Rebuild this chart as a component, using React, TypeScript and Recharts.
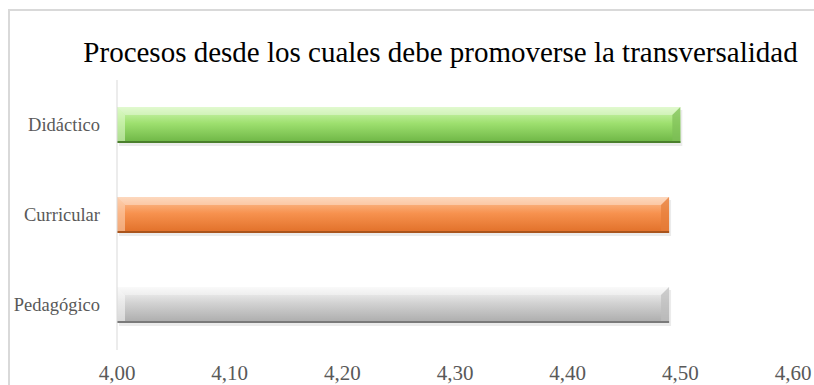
import React from 'react';
import { BarChart, Bar, XAxis, YAxis, Cell } from 'recharts';

const categories = ['Didáctico', 'Curricular', 'Pedagógico'];
const values = [4.5, 4.49, 4.49];
const xTicks = [4.0, 4.1, 4.2, 4.3, 4.4, 4.5, 4.6];
const title = 'Procesos desde los cuales debe promoverse la transversalidad';

const data = categories.map((c, i) => ({ name: c, value: values[i] }));

const SERIF = "'Liberation Serif', 'Times New Roman', serif";

const palettes: Record<string, { top: string; mid: string; bot: string; edge: string; light: string; dark: string }> = {
  'Didáctico': { top: '#d2f7b6', mid: '#9ee06f', bot: '#6cb444', edge: '#4a7f2c', light: '#e4fbd2', dark: '#7fbf58' },
  'Curricular': { top: '#fcc49c', mid: '#f7924f', bot: '#e06f28', edge: '#a9541c', light: '#fdd7bb', dark: '#e57d3a' },
  'Pedagógico': { top: '#f7f7f7', mid: '#d2d2d2', bot: '#ababab', edge: '#7a7a7a', light: '#fbfbfb', dark: '#bdbdbd' },
};

const BevelBar = (props: any) => {
  const { x, y, width, height, payload } = props;
  if (width == null || width <= 0) return null;
  const p = palettes[payload.name];
  const id = 'g' + categories.indexOf(payload.name);
  const b = 8;
  return (
    <g>
      <defs>
        <linearGradient id={id} x1="0" y1="0" x2="0" y2="1">
          <stop offset="0%" stopColor={p.top} />
          <stop offset="45%" stopColor={p.mid} />
          <stop offset="100%" stopColor={p.bot} />
        </linearGradient>
      </defs>
      <rect x={x + 2} y={y + 3} width={width} height={height} fill="#000" opacity={0.08} />
      <rect x={x} y={y} width={width} height={height} fill={`url(#${id})`} />
      <polygon points={`${x},${y} ${x + b},${y + b} ${x + b},${y + height - 2} ${x},${y + height}`} fill={p.light} opacity={0.55} />
      <polygon points={`${x},${y} ${x + width},${y} ${x + width - b},${y + b} ${x + b},${y + b}`} fill="#ffffff" opacity={0.35} />
      <polygon points={`${x + width},${y} ${x + width},${y + height} ${x + width - b},${y + height - 2} ${x + width - b},${y + b}`} fill={p.dark} opacity={0.7} />
      <rect x={x} y={y + height - 2} width={width} height={2} fill={p.edge} />
    </g>
  );
};

const fmt = (v: number) => v.toFixed(2).replace('.', ',');

const XTick = (props: any) => {
  const { x, y, payload } = props;
  return (
    <text x={x} y={y} dy="0.71em" textAnchor="middle" fill="#595959" fontSize={21} fontFamily={SERIF}>
      {fmt(payload.value)}
    </text>
  );
};

const YTick = (props: any) => {
  const { x, y, payload } = props;
  return (
    <text x={x} y={y} dy="0.35em" textAnchor="end" fill="#595959" fontSize={18.5} fontFamily={SERIF}>
      {payload.value}
    </text>
  );
};

export default function App() {
  return (
    <div style={{ position: 'absolute', left: 0, top: 0, width: 814, height: 385, overflow: 'hidden', background: '#fff' }}>
      <div style={{ position: 'absolute', left: 8, top: 9, width: 900, height: 500, borderLeft: '2px solid #d9d9d9', borderTop: '2px solid #d9d9d9' }} />
      <svg width={814} height={385} style={{ position: 'absolute', left: 0, top: 0 }}>
        <text x={440.5} y={62} textAnchor="middle" fontFamily={SERIF} fontSize={29} fill="#000">
          {title}
        </text>
      </svg>
      <div style={{ position: 'absolute', left: 0, top: 0 }}>
        <BarChart
          width={814}
          height={385}
          data={data}
          layout="vertical"
          margin={{ top: 80, right: 21, bottom: 0, left: 0 }}
          barCategoryGap={27}
        >
          <XAxis
            type="number"
            domain={[4, 4.6]}
            ticks={xTicks}
            axisLine={false}
            tickLine={false}
            tickSize={0}
            tickMargin={15}
            height={35}
            interval={0}
            allowDataOverflow
            tick={<XTick />}
          />
          <YAxis
            type="category"
            dataKey="name"
            width={117}
            axisLine={{ stroke: '#d9d9d9', strokeWidth: 1 }}
            tickLine={false}
            tickSize={0}
            tickMargin={17}
            tick={<YTick />}
          />
          <Bar dataKey="value" barSize={36} isAnimationActive={false} shape={<BevelBar />}>
            {data.map((d) => (
              <Cell key={d.name} fill={palettes[d.name].mid} />
            ))}
          </Bar>
        </BarChart>
      </div>
    </div>
  );
}
